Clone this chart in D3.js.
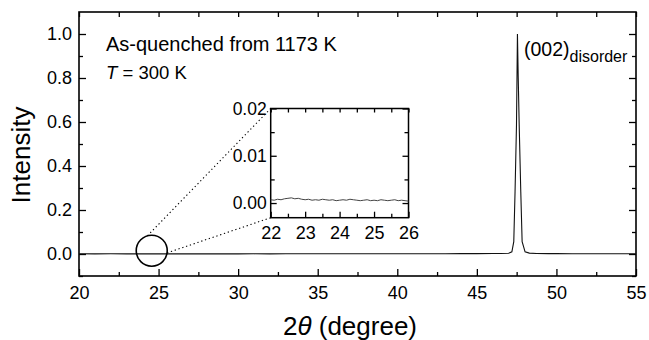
<!DOCTYPE html>
<html>
<head>
<meta charset="utf-8">
<script src="https://cdn.jsdelivr.net/npm/d3@7"></script>
<style>
  html, body { margin: 0; padding: 0; background: #fff; }
  svg { display: block; }
  text { font-family: "Liberation Sans", Arial, Helvetica, sans-serif; fill: #000; }
</style>
</head>
<body>
<svg id="chart" width="649" height="340"></svg>
<script>
// ---------------- data ----------------
const mainX = [20, 21, 22, 23, 24, 25, 26, 27, 28, 29, 30, 31, 32, 33, 34, 35, 36, 37, 38, 39, 40,
  41, 42, 43, 44, 45, 46, 46.5, 47, 47.2, 47.32, 47.4, 47.49, 47.55, 47.6, 47.66, 47.76, 47.845,
  48.03, 48.3, 48.75, 49.5, 50, 51, 52, 53, 54, 55];
const mainY = [0.0008, 0.0007, 0.0008, 0.0007, 0.0006, 0.0006, 0.0006, 0.0007, 0.0006, 0.0007, 0.0007,
  0.0008, 0.0007, 0.0008, 0.0008, 0.0009, 0.0009, 0.0010, 0.0010, 0.0011, 0.0011,
  0.0012, 0.0013, 0.0014, 0.0015, 0.0017, 0.0020, 0.0025, 0.0035, 0.010, 0.056, 0.283, 0.586, 1.0, 0.80, 0.586, 0.283, 0.056,
  0.010, 0.004, 0.0025, 0.0018, 0.0016, 0.0014, 0.0013, 0.0012, 0.0011, 0.0010];

const insetX = [22.0, 22.1, 22.2, 22.3, 22.4, 22.5, 22.6, 22.7, 22.8, 22.9,
  23.0, 23.1, 23.2, 23.3, 23.4, 23.5, 23.6, 23.7, 23.8, 23.9,
  24.0, 24.1, 24.2, 24.3, 24.4, 24.5, 24.6, 24.7, 24.8, 24.9,
  25.0, 25.1, 25.2, 25.3, 25.4, 25.5, 25.6, 25.7, 25.8, 25.9, 26.0];
const insetY = [0.0007, 0.0006, 0.0008, 0.0007, 0.0009, 0.0010, 0.0011, 0.0009, 0.0010, 0.0008,
  0.0007, 0.0008, 0.0006, 0.0007, 0.0006, 0.0008, 0.0007, 0.0006, 0.0007, 0.0005,
  0.0006, 0.0007, 0.0006, 0.0008, 0.0007, 0.0006, 0.0005, 0.0006, 0.0007, 0.0005,
  0.0006, 0.0005, 0.0007, 0.0006, 0.0005, 0.0006, 0.0007, 0.0005, 0.0006, 0.0005, 0.0004];

const xMajorTicks = [20, 25, 30, 35, 40, 45, 50, 55];
const xMinorTicks = [22.5, 27.5, 32.5, 37.5, 42.5, 47.5, 52.5];
const yMajorTicks = [0.0, 0.2, 0.4, 0.6, 0.8, 1.0];
const yMinorTicks = [-0.1, 0.1, 0.3, 0.5, 0.7, 0.9];
const insetXMajor = [22, 23, 24, 25, 26];
const insetXMinor = [22.5, 23.5, 24.5, 25.5];
const insetYMajor = [0.00, 0.01, 0.02];
const insetYMinor = [0.005, 0.015];

const annotation1 = "As-quenched from 1173 K";
const peakLabel = "(002)";
const peakSub = "disorder";
const zoomCircle = { x: 24.57, y: 0.015 };

// ---------------- layout ----------------
const svg = d3.select("#chart");
const M = { left: 79, right: 636, top: 12, bottom: 276 };
const x = d3.scaleLinear().domain([20, 55]).range([M.left, M.right]);
const y = d3.scaleLinear().domain([-0.1, 1.1]).range([M.bottom, M.top]);

const I = { left: 270.7, right: 408.5, top: 108.5, bottom: 217.7 };
const xi = d3.scaleLinear().domain([22, 26]).range([I.left, I.right]);
const yi = d3.scaleLinear().domain([-0.0031, 0.02]).range([I.bottom, I.top]);

function styleAxis(g, fs) {
  g.select(".domain").remove();
  g.selectAll("line").attr("stroke", "#000").attr("stroke-width", 1.3);
  g.selectAll("text").style("font-size", fs + "px").attr("fill", "#000");
}

// main axes (ticks inward on all sides)
const fmt1 = d3.format(".1f");
svg.append("g").attr("transform", `translate(0,${M.bottom})`)
  .call(d3.axisBottom(x).tickValues(xMajorTicks).tickSize(-7).tickPadding(10).tickFormat(d3.format("d")))
  .call(g => styleAxis(g, 18));
svg.append("g").attr("transform", `translate(0,${M.bottom})`)
  .call(d3.axisBottom(x).tickValues(xMinorTicks).tickSize(-4).tickFormat(""))
  .call(g => styleAxis(g, 18));
svg.append("g").attr("transform", `translate(0,${M.top})`)
  .call(d3.axisTop(x).tickValues(xMajorTicks.concat(xMinorTicks)).tickSize(-5).tickFormat(""))
  .call(g => styleAxis(g, 18));
svg.append("g").attr("transform", `translate(${M.left},0)`)
  .call(d3.axisLeft(y).tickValues(yMajorTicks).tickSize(-7).tickPadding(7).tickFormat(fmt1))
  .call(g => styleAxis(g, 18));
svg.append("g").attr("transform", `translate(${M.left},0)`)
  .call(d3.axisLeft(y).tickValues(yMinorTicks).tickSize(-4).tickFormat(""))
  .call(g => styleAxis(g, 18));
svg.append("g").attr("transform", `translate(${M.right},0)`)
  .call(d3.axisRight(y).tickValues(yMajorTicks).tickSize(-7).tickFormat(""))
  .call(g => styleAxis(g, 18));
svg.append("g").attr("transform", `translate(${M.right},0)`)
  .call(d3.axisRight(y).tickValues(yMinorTicks).tickSize(-4).tickFormat(""))
  .call(g => styleAxis(g, 18));

// main frame
svg.append("rect").attr("x", M.left).attr("y", M.top)
  .attr("width", M.right - M.left).attr("height", M.bottom - M.top)
  .attr("fill", "none").attr("stroke", "#000").attr("stroke-width", 1.6);

// main data line
const mainData = mainX.map((d, i) => [d, mainY[i]]);
svg.append("path").datum(mainData)
  .attr("fill", "none").attr("stroke", "#111").attr("stroke-width", 1.1)
  .attr("d", d3.line().x(d => x(d[0])).y(d => y(d[1])));

// zoom circle + dotted connectors
const cx = x(zoomCircle.x), cy = y(zoomCircle.y), r = 15.5;
svg.append("circle").attr("cx", cx).attr("cy", cy).attr("r", r)
  .attr("fill", "none").attr("stroke", "#000").attr("stroke-width", 1.6);
const a1 = -106 * Math.PI / 180, a2 = 8 * Math.PI / 180;
svg.append("line")
  .attr("x1", cx + r * Math.cos(a1)).attr("y1", cy + r * Math.sin(a1))
  .attr("x2", I.left).attr("y2", I.top)
  .attr("stroke", "#000").attr("stroke-width", 1.1).attr("stroke-dasharray", "1.3,2.7");
svg.append("line")
  .attr("x1", cx + r * Math.cos(a2)).attr("y1", cy + r * Math.sin(a2))
  .attr("x2", I.left).attr("y2", I.bottom)
  .attr("stroke", "#000").attr("stroke-width", 1.1).attr("stroke-dasharray", "1.3,2.7");

// inset
svg.append("rect").attr("x", I.left).attr("y", I.top)
  .attr("width", I.right - I.left).attr("height", I.bottom - I.top)
  .attr("fill", "#fff").attr("stroke", "none");
svg.append("g").attr("transform", `translate(0,${I.bottom})`)
  .call(d3.axisBottom(xi).tickValues(insetXMajor).tickSize(-6).tickPadding(9).tickFormat(d3.format("d")))
  .call(g => styleAxis(g, 18));
svg.append("g").attr("transform", `translate(0,${I.bottom})`)
  .call(d3.axisBottom(xi).tickValues(insetXMinor).tickSize(-4).tickFormat(""))
  .call(g => styleAxis(g, 18));
svg.append("g").attr("transform", `translate(0,${I.top})`)
  .call(d3.axisTop(xi).tickValues(insetXMajor.concat(insetXMinor)).tickSize(-4).tickFormat(""))
  .call(g => styleAxis(g, 18));
svg.append("g").attr("transform", `translate(${I.left},0)`)
  .call(d3.axisLeft(yi).tickValues(insetYMajor).tickSize(-6).tickPadding(4).tickFormat(d3.format(".2f")))
  .call(g => styleAxis(g, 17.5));
svg.append("g").attr("transform", `translate(${I.left},0)`)
  .call(d3.axisLeft(yi).tickValues(insetYMinor).tickSize(-4).tickFormat(""))
  .call(g => styleAxis(g, 18));
svg.append("g").attr("transform", `translate(${I.right},0)`)
  .call(d3.axisRight(yi).tickValues(insetYMajor).tickSize(-6).tickFormat(""))
  .call(g => styleAxis(g, 18));
svg.append("g").attr("transform", `translate(${I.right},0)`)
  .call(d3.axisRight(yi).tickValues(insetYMinor).tickSize(-4).tickFormat(""))
  .call(g => styleAxis(g, 18));
svg.append("rect").attr("x", I.left).attr("y", I.top)
  .attr("width", I.right - I.left).attr("height", I.bottom - I.top)
  .attr("fill", "none").attr("stroke", "#000").attr("stroke-width", 1.5);
const insetData = insetX.map((d, i) => [d, insetY[i]]);
svg.append("path").datum(insetData)
  .attr("fill", "none").attr("stroke", "#444").attr("stroke-width", 1)
  .attr("d", d3.line().x(d => xi(d[0])).y(d => yi(d[1])));

// annotations
svg.append("text").attr("x", 106).attr("y", 51).style("font-size", "20px").text(annotation1);
const t2 = svg.append("text").attr("x", 106).attr("y", 79).style("font-size", "18.5px");
t2.append("tspan").style("font-style", "italic").text("T");
t2.append("tspan").text(" = 300 K");

const pl = svg.append("text").attr("x", 524).attr("y", 56).style("font-size", "19.5px");
pl.append("tspan").text(peakLabel);
pl.append("tspan").attr("dy", 6).style("font-size", "16px").text(peakSub);

// axis titles
svg.append("text").attr("transform", "translate(30,155) rotate(-90)")
  .attr("text-anchor", "middle").style("font-size", "26px").text("Intensity");
const xt = svg.append("text").attr("x", 350).attr("y", 335).attr("text-anchor", "middle").style("font-size", "26px");
xt.append("tspan").text("2");
xt.append("tspan").style("font-style", "italic").text("θ");
xt.append("tspan").text(" (degree)");
</script>
</body>
</html>
